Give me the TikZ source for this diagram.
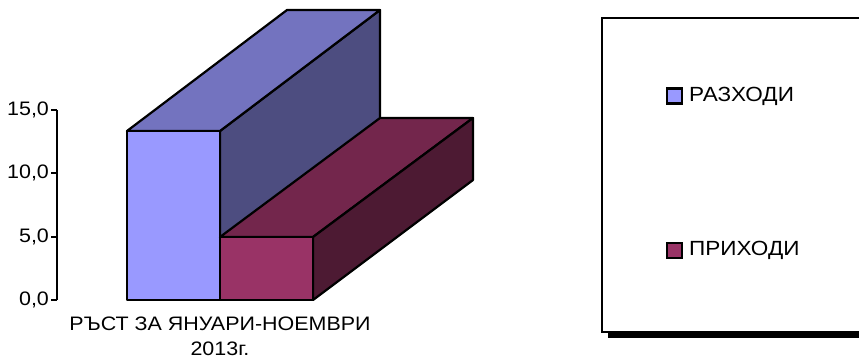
\documentclass[tikz,border=0pt]{standalone}
\usepackage{fontspec}
\setmainfont{Liberation Sans}[FakeStretch=1.1]
\usetikzlibrary{positioning}

\definecolor{razFront}{HTML}{9999FF}
\definecolor{razTop}{HTML}{7373BF}
\definecolor{razSide}{HTML}{4D4D80}
\definecolor{priFront}{HTML}{993366}
\definecolor{priTop}{HTML}{73264C}
\definecolor{priSide}{HTML}{4D1A33}

\begin{document}
\begin{tikzpicture}[
    x=1pt, y=-1pt, % pixel units, y grows downwards
    line width=2.2pt,
    every node/.style={font={\fontsize{19.5}{25}\selectfont}, inner sep=0pt}, % chart text
    face/.style={draw=black, line join=round}, % faces of the 3D bars
    ticklabel/.style={anchor=east},
    legendkey/.style={draw=black, line width=2.2pt, minimum size=15pt},
    legendtext/.style={font={\fontsize{20.5}{22}\selectfont}, anchor=west},
  ]
  \useasboundingbox (0,0) rectangle (859,362);
  \clip (0,0) rectangle (859,362);

  % value axis
  \draw (57,110) -- (57,300);
  \foreach \y/\v in {300/0, 236.7/5, 173.3/10, 110/15}
    \draw (51,\y) -- (57,\y) node[ticklabel, pos=0, xshift=-1pt] (t\v) {\v,0};

  % РАЗХОДИ bar
  \filldraw[face, fill=razSide] (220,131) -- (380,10) -- (380,180) -- (220,300) -- cycle;
  \filldraw[face, fill=razTop] (127,131) -- (287,10) -- (380,10) -- (220,131) -- cycle;
  \filldraw[face, fill=razFront] (127,131) rectangle (220,300);

  % ПРИХОДИ bar
  \filldraw[face, fill=priTop] (220,237) -- (380,118) -- (473,118) -- (313,237) -- cycle;
  \filldraw[face, fill=priSide] (313,237) -- (473,118) -- (473,180) -- (313,300) -- cycle;
  \filldraw[face, fill=priFront] (220,237) rectangle (313,300);

  % category label
  \node[align=center] (cat) at (220,336) {РЪСТ ЗА ЯНУАРИ-НОЕМВРИ\\2013г.};

  % legend
  \fill[black] (608,331) rectangle (900,338);
  \filldraw[draw=black, fill=white] (602,18) rectangle (900,332);
  \node[legendkey, fill=razFront] (kRaz) at (674.5,96) {};
  \node[legendtext, right=5pt of kRaz] (lRaz) {РАЗХОДИ};
  \node[legendkey, fill=priFront] (kPri) at (674.5,250.5) {};
  \node[legendtext, right=5pt of kPri] (lPri) {ПРИХОДИ};

\end{tikzpicture}
\end{document}
